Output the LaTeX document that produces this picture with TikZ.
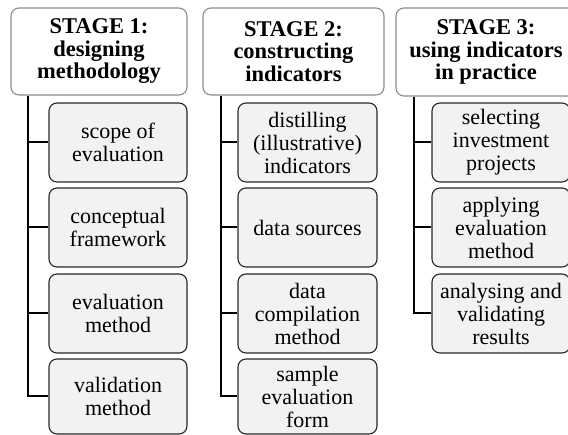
\documentclass[tikz,border=0pt]{standalone}
\usepackage{fontspec}
\setmainfont{Liberation Serif}
\usepackage{tikz}

\definecolor{boxfill}{HTML}{F2F2F2}
\definecolor{stageline}{HTML}{8C8C8C}
\tikzset{
  stagebox/.style={shape=rectangle, rounded corners=8pt, draw=stageline, line width=1.1pt,
    fill=white, align=center, inner sep=0pt, font=\fontsize{22.5}{22.5}\selectfont\bfseries},
  taskbox/.style={shape=rectangle, rounded corners=8pt, draw=black!85, line width=1.1pt,
    fill=boxfill, align=center, inner sep=0pt, minimum width=138pt, minimum height=79pt,
    font=\fontsize{22}{23}\selectfont},
  link/.style={draw=black, line width=2pt}
}

\begin{document}
\begin{tikzpicture}[x=1pt,y=1pt]
\useasboundingbox (0,0) rectangle (568,435);
\clip (0,0) rectangle (568,435);

\node[stagebox, minimum width=176pt, minimum height=87pt](S1) at (99,383.5) {STAGE 1:\\designing\\methodology};
\node[stagebox, minimum width=181pt, minimum height=87pt](S2) at (293.5,383.5) {STAGE 2:\\constructing\\indicators};
\node[stagebox, minimum width=180pt, minimum height=88pt](S3) at (486,383) {STAGE 3:\\using indicators\\in practice};

\node[taskbox](A1) at (118,292.5) {scope of\\evaluation};
\node[taskbox](A2) at (118,207.5) {conceptual\\framework};
\node[taskbox](A3) at (118,121.5) {evaluation\\method};
\node[taskbox, minimum height=75pt](A4) at (118,38.5) {validation\\method};

\node[taskbox, minimum width=139pt](B1) at (307.5,292.5) {distilling\\(illustrative)\\indicators};
\node[taskbox, minimum width=139pt](B2) at (307.5,207.5) {data sources};
\node[taskbox, minimum width=139pt](B3) at (307.5,121.5) {data\\compilation\\method};
\node[taskbox, minimum width=139pt, minimum height=75pt](B4) at (307.5,38.5) {sample\\evaluation\\form};

\node[taskbox](C1) at (501,292.5) {selecting\\investment\\projects};
\node[taskbox](C2) at (501,207.5) {applying\\evaluation\\method};
\node[taskbox](C3) at (501,121.5) {analysing and\\validating\\results};

% trunk lines down the left of each stage
\draw[link] ([xshift=18pt]S1.south west) |- (A1.west);
\draw[link] ([xshift=18pt]S1.south west) |- (A2.west);
\draw[link] ([xshift=18pt]S1.south west) |- (A3.west);
\draw[link] ([xshift=18pt]S1.south west) |- (A4.west);

\draw[link] ([xshift=19pt]S2.south west) |- (B1.west);
\draw[link] ([xshift=19pt]S2.south west) |- (B2.west);
\draw[link] ([xshift=19pt]S2.south west) |- (B3.west);
\draw[link] ([xshift=19pt]S2.south west) |- (B4.west);

\draw[link] ([xshift=19pt]S3.south west) |- (C1.west);
\draw[link] ([xshift=19pt]S3.south west) |- (C2.west);
\draw[link] ([xshift=19pt]S3.south west) |- (C3.west);
\end{tikzpicture}
\end{document}
